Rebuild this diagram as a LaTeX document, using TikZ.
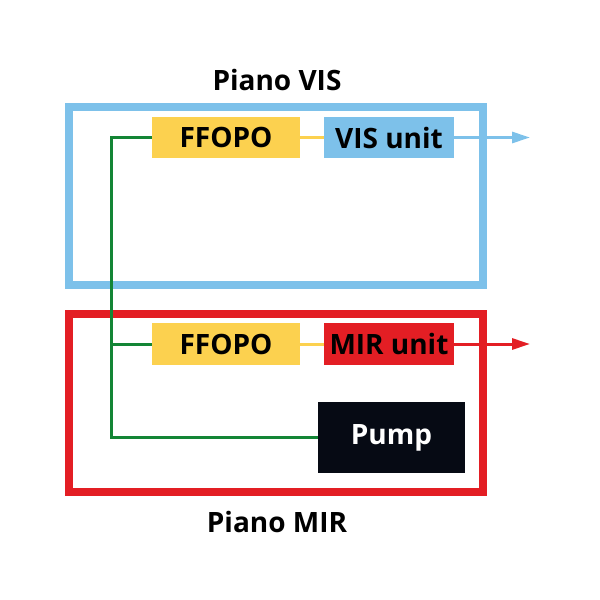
\documentclass[tikz,border=0pt]{standalone}
\usepackage{fontspec}
\setmainfont{Open Sans}
\usetikzlibrary{arrows.meta}
\definecolor{visblue}{HTML}{7DC1EA}
\definecolor{opoyel}{HTML}{FCD14F}
\definecolor{mirred}{HTML}{E31E24}
\definecolor{pumpgreen}{HTML}{138535}
\definecolor{pumpblack}{HTML}{060A14}
\begin{document}
\begin{tikzpicture}[x=1pt,y=-1pt,
  unitbox/.style={inner sep=0pt, font=\bfseries\fontsize{28}{28}\selectfont, text=black},
  frame/.style={line width=8pt},
  beam/.style={line width=3pt},
  outarrow/.style={beam, -{Triangle[length=18pt,width=11pt]}},
  title/.style={font=\bfseries\fontsize{28}{28}\selectfont, text=black}
]
\useasboundingbox (0,0) rectangle (600,600);
% frames
\draw[frame, visblue] (69,107) rectangle (483,285);
\draw[frame, mirred] (69,314) rectangle (483,492);
\node[title] (tvis) at (277,80) {Piano VIS};
\node[title] (tmir) at (277,522) {Piano MIR};
% boxes
\node[unitbox, fill=opoyel, minimum width=148pt, minimum height=41pt] (opo1) at (226,137.5) {FFOPO};
\node[unitbox, fill=visblue, minimum width=130pt, minimum height=41pt] (vis) at (389,137.5) {VIS unit};
\node[unitbox, fill=opoyel, minimum width=148pt, minimum height=42pt] (opo2) at (226,344) {FFOPO};
\node[unitbox, fill=mirred, minimum width=130pt, minimum height=42pt] (mir) at (389,344) {MIR unit};
\node[unitbox, fill=pumpblack, text=white, minimum width=147pt, minimum height=71pt] (pump) at (391.5,437.5) {Pump};
\coordinate (visout) at (530,137.5);
\coordinate (mirout) at (530,344);
\coordinate (corner) at (111,437.5);
% beams
\draw[beam, opoyel] (opo1.east) -- (vis.west);
\draw[beam, opoyel] (opo2.east) -- (mir.west);
\draw[outarrow, visblue] (vis.east) -- (visout);
\draw[outarrow, mirred] (mir.east) -- (mirout);
\draw[beam, pumpgreen] (pump.west) -- (corner) |- (opo1.west);
\draw[beam, pumpgreen] (corner |- opo2.west) -- (opo2.west);
\end{tikzpicture}
\end{document}
